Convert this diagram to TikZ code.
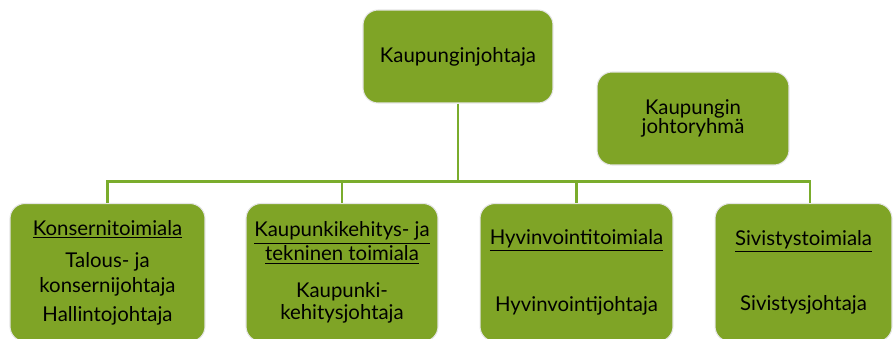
\documentclass[tikz,border=0pt]{standalone}
\usepackage{fontspec}
\setmainfont{Lato}
\usetikzlibrary{calc,positioning}
\definecolor{boxGreen}{RGB}{127,164,38}
\definecolor{lineGreen}{RGB}{122,172,44}

\tikzset{
  unit/.style={rounded corners=0.3cm, fill=boxGreen, draw=black!10, line width=0.6pt,
    align=center, font=\fontsize{11.6}{12.5}\selectfont, text=black, inner sep=2pt},
  topunit/.style={unit, minimum width=3.8cm, minimum height=1.86cm},
  branch/.style={unit, minimum height=2.76cm},
  conn/.style={draw=lineGreen, line width=1.6pt}
}

\begin{document}
\begin{tikzpicture}[x=0.02cm,y=-0.02cm]

      \useasboundingbox (0,0) rectangle (895,338);
      \clip (0,0) rectangle (895,338);

      % draw the top level
      \node[topunit] (johtaja) at (458,56.5) {Kaupunginjohtaja};
      \node[topunit, minimum width=3.84cm] (ryhma) at (693,118.5) {Kaupungin\\[-1.5pt]johtoryhmä};

      % draw the branches
      \node[branch, minimum width=3.9cm] (konserni) at (107.5,272.5)
        {\underline{Konsernitoimiala}\\[5.7pt] Talous- ja\\[1.7pt] konsernijohtaja\\[4pt] Hallintojohtaja};
      \node[branch, minimum width=3.84cm] (kaupunki) at (342,272.5)
        {\underline{Kaupunkikehitys- ja}\\ \underline{tekninen toimiala}\\[8.5pt] Kaupunki-\\ kehitysjohtaja};
      \node[branch, minimum width=3.86cm] (hyvinvointi) at (576.5,272.5)
        {\underline{Hyvinvointitoimiala}\\[24.5pt] Hyvinvointijohtaja};
      \node[branch, minimum width=3.54cm] (sivistys) at (803.5,272.5)
        {\underline{Sivistystoimiala}\\[23.5pt] Sivistysjohtaja};

      % draw the connectors
      \coordinate (hub) at ($(johtaja.south)+(0,78)$);
      \draw[conn] (johtaja.south) -- (hub);
      \foreach \n/\dx in {konserni/0, kaupunki/0, hyvinvointi/0, sivistys/6.5}
        \draw[conn] ([xshift=\dx*0.02cm]\n.north) |- (hub);

\end{tikzpicture}
\end{document}
